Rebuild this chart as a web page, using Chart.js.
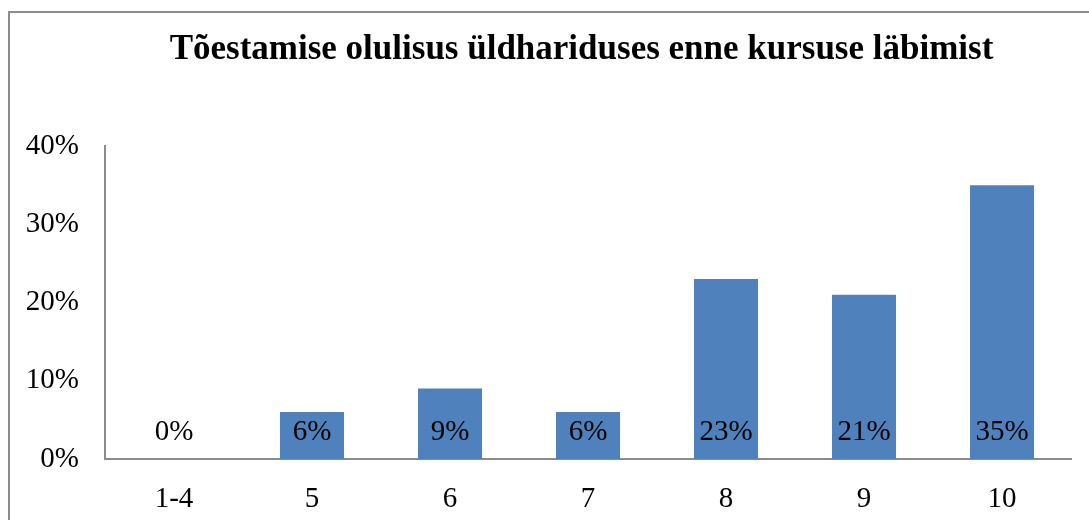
<!DOCTYPE html>
<html>
<head>
<meta charset="utf-8">
<script src="https://cdn.jsdelivr.net/npm/chart.js@4"></script>
<style>
  html, body { margin: 0; padding: 0; background: #fff; overflow: hidden; }
  #wrap { position: relative; width: 1089px; height: 520px; }
  #frame { position: absolute; left: 8px; top: 11px; width: 1200px; height: 600px; border: 2px solid #8c8c8c; box-sizing: border-box; }
  canvas { position: absolute; left: 0; top: 0; }
</style>
</head>
<body>
<div id="wrap">
  <div id="frame"></div>
  <canvas id="chart" width="1089" height="520"></canvas>
</div>
<script>
// chart data
const categories = ['1-4', '5', '6', '7', '8', '9', '10'];
const values = [0, 6, 9, 6, 23, 21, 35];
const yTicks = [0, 10, 20, 30, 40];

const titleText = 'Tõestamise olulisus üldhariduses enne kursuse läbimist';
const barColor = '#4F81BD';
const serif = "'Liberation Serif', 'Times New Roman', serif";

// labels drawn inside the bars, near the axis
const barLabels = {
    id: 'barLabels',
    afterDatasetsDraw(chart) {
        const ctx = chart.ctx;
        const meta = chart.getDatasetMeta(0);
        const base = chart.scales.y.getPixelForValue(0);
        ctx.save();
        ctx.font = '29px ' + serif;
        ctx.fillStyle = '#000';
        ctx.textAlign = 'center';
        ctx.textBaseline = 'middle';
        meta.data.forEach((bar, i) => {
            ctx.fillText(values[i] + '%', bar.x, base - 27);
        });
        ctx.restore();
    }
};

// center the title a bit to the right, over the plot area
const shiftTitle = {
    id: 'shiftTitle',
    afterLayout(chart) {
        if (chart.titleBlock) {
            chart.titleBlock.left = 74;
            chart.titleBlock.right = chart.width;
        }
    }
};

const ctx = document.getElementById('chart').getContext('2d');
const chart = new Chart(ctx, {
    type: 'bar',
    data: {
        labels: categories,
        datasets: [{
            data: values,
            backgroundColor: barColor,
            borderWidth: 0,
            barPercentage: 0.464,
            categoryPercentage: 1
        }]
    },
    options: {
        responsive: false,
        animation: false,
        layout: { padding: { left: 0, right: 18, top: 0, bottom: 0 } },
        plugins: {
            legend: { display: false },
            tooltip: { enabled: false },
            title: {
                display: true,
                text: titleText,
                color: '#000',
                font: { family: serif, size: 35, weight: 'bold' },
                padding: { top: 29, bottom: 75 }
            }
        },
        scales: {
            x: {
                grid: { display: false },
                border: { display: true, color: '#8c8c8c', width: 2 },
                ticks: { color: '#000', font: { family: serif, size: 29 }, padding: 15, maxRotation: 0 },
                afterFit(scale) { scale.height = 61; }
            },
            y: {
                min: 0,
                max: 40,
                grid: { display: false },
                border: { display: true, color: '#8c8c8c', width: 2 },
                afterBuildTicks(scale) { scale.ticks = yTicks.map(v => ({ value: v })); },
                ticks: {
                    color: '#000',
                    font: { family: serif, size: 29 },
                    padding: 18,
                    callback: v => v + '%'
                },
                afterFit(scale) { scale.width = 105; }
            }
        }
    },
    plugins: [barLabels, shiftTitle]
});
</script>
</body>
</html>
